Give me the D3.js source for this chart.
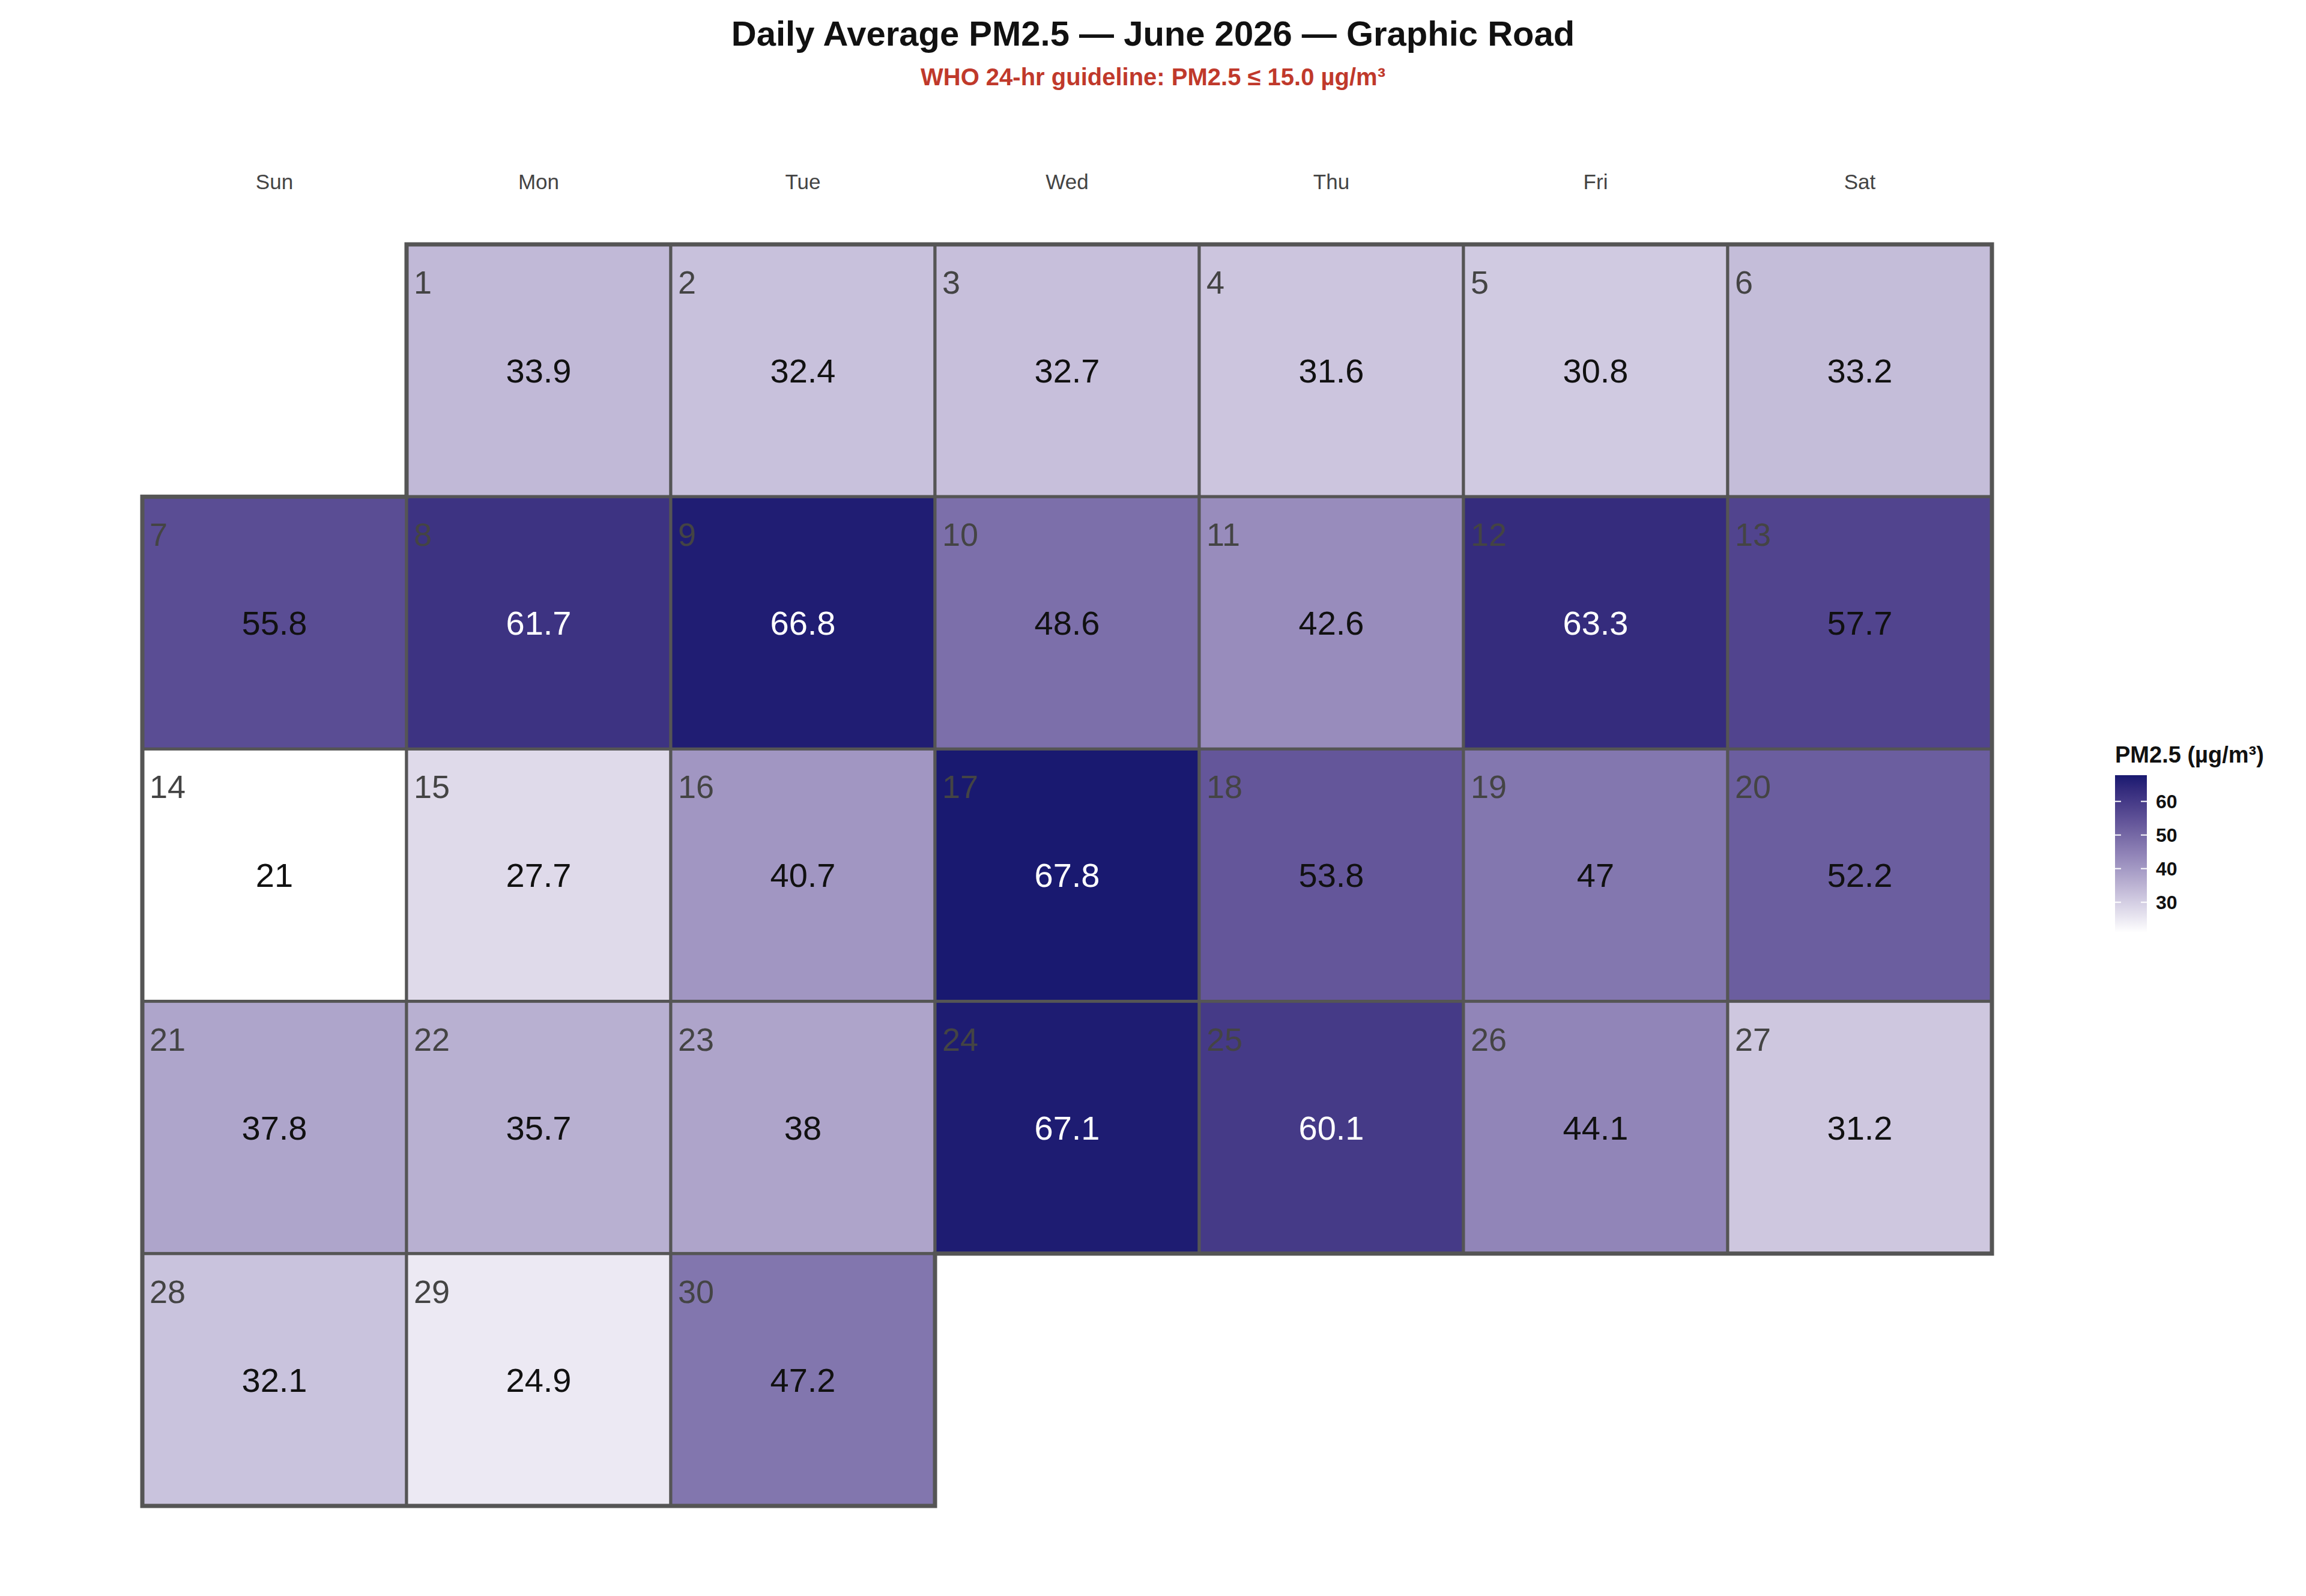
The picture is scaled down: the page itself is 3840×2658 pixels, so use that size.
<!DOCTYPE html>
<html><head><meta charset="utf-8">
<script src="https://cdn.jsdelivr.net/npm/d3@7"></script>
<style>body{margin:0;background:#fff}</style>
</head><body>
<script>
// June 2026 daily PM2.5
const weekdays = ["Sun","Mon","Tue","Wed","Thu","Fri","Sat"];
const pm25 = [33.9,32.4,32.7,31.6,30.8,33.2,
  55.8,61.7,66.8,48.6,42.6,63.3,57.7,
  21,27.7,40.7,67.8,53.8,47,52.2,
  37.8,35.7,38,67.1,60.1,44.1,31.2,
  32.1,24.9,47.2];
const legendTicks = [30,40,50,60];

const W = 3840, H = 2658;
const svg = d3.select("body").append("svg").attr("width", W).attr("height", H)
  .style("font-family", "Liberation Sans, Arial, sans-serif");

const days = pm25.map((v, i) => {
  const d = new Date(2026, 5, i + 1);
  return {day: i + 1, value: v, dow: d.getDay(), week: d3.timeWeek.count(new Date(2026, 5, 1), d)};
});

const x = d3.scaleBand().domain(d3.range(7)).range([237, 3317]);
const y = d3.scaleBand().domain(d3.range(5)).range([407, 2508]);
const color = d3.scaleLinear().domain([d3.min(pm25), d3.max(pm25)])
  .range(["#ffffff", "#191970"]).interpolate(d3.interpolateLab);

svg.append("text").attr("x", 1920).attr("y", 76).attr("text-anchor", "middle")
  .attr("font-size", 58).attr("font-weight", "bold").attr("fill", "#111")
  .text("Daily Average PM2.5  \u2014  June 2026  \u2014  Graphic Road");
svg.append("text").attr("x", 1920).attr("y", 142).attr("text-anchor", "middle")
  .attr("font-size", 40).attr("font-weight", "bold").attr("fill", "#c0392b")
  .text("WHO 24-hr guideline: PM2.5 \u2264 15.0 \u00b5g/m\u00b3");

svg.selectAll(".wd").data(weekdays).join("text")
  .attr("x", (d, i) => x(i) + x.bandwidth() / 2).attr("y", 315)
  .attr("text-anchor", "middle").attr("font-size", 35).attr("fill", "#444").text(d => d);

const cell = svg.selectAll(".cell").data(days).join("g")
  .attr("transform", d => `translate(${x(d.dow)},${y(d.week)})`);
cell.append("rect").attr("width", x.bandwidth()).attr("height", y.bandwidth())
  .attr("fill", d => color(d.value)).attr("stroke", "#555").attr("stroke-width", 5);
cell.append("text").attr("x", 12).attr("y", 82).attr("font-size", 54).attr("fill", "#444")
  .text(d => d.day);
cell.append("text").attr("x", x.bandwidth() / 2).attr("y", y.bandwidth() / 2 + 20)
  .attr("text-anchor", "middle").attr("font-size", 56)
  .attr("fill", d => d.value > 58 ? "#fff" : "#111").text(d => d.value);

// month outline
const bw = x.bandwidth(), bh = y.bandwidth();
const x0 = x(0), y0 = y(0), first = days[0].dow, last = days[days.length - 1];
const pts = [[x(first), y0], [x0 + 7 * bw, y0], [x0 + 7 * bw, y(last.week)],
  [x(last.dow) + bw, y(last.week)], [x(last.dow) + bw, y(last.week) + bh],
  [x0, y(last.week) + bh], [x0, y(1)], [x(first), y(1)]];
svg.append("path").attr("d", d3.line()(pts) + "Z").attr("fill", "none")
  .attr("stroke", "#555").attr("stroke-width", 7);

// legend
const lx = 3522, ly0 = 1291, ly1 = 1553;
const ls = d3.scaleLinear().domain(color.domain()).range([ly1, ly0]);
const grad = svg.append("defs").append("linearGradient").attr("id", "g")
  .attr("x1", 0).attr("y1", 1).attr("x2", 0).attr("y2", 0);
d3.range(0, 1.01, 0.1).forEach(t => grad.append("stop").attr("offset", t)
  .attr("stop-color", color(color.domain()[0] + t * (color.domain()[1] - color.domain()[0]))));
svg.append("text").attr("x", lx).attr("y", 1270).attr("font-size", 38).attr("font-weight", "bold")
  .attr("fill", "#111").text("PM2.5 (\u00b5g/m\u00b3)");
svg.append("rect").attr("x", lx).attr("y", ly0).attr("width", 53).attr("height", ly1 - ly0).attr("fill", "url(#g)");
const lg = svg.selectAll(".lt").data(legendTicks).join("g");
lg.append("line").attr("x1", lx).attr("x2", lx + 10).attr("y1", ls).attr("y2", ls).attr("stroke", "#fff").attr("stroke-width", 2);
lg.append("line").attr("x1", lx + 43).attr("x2", lx + 53).attr("y1", ls).attr("y2", ls).attr("stroke", "#fff").attr("stroke-width", 2);
lg.append("text").attr("x", lx + 68).attr("y", d => ls(d) + 11).attr("font-size", 32)
  .attr("font-weight", "bold").attr("fill", "#111").text(d => d);
</script>
</body></html>
